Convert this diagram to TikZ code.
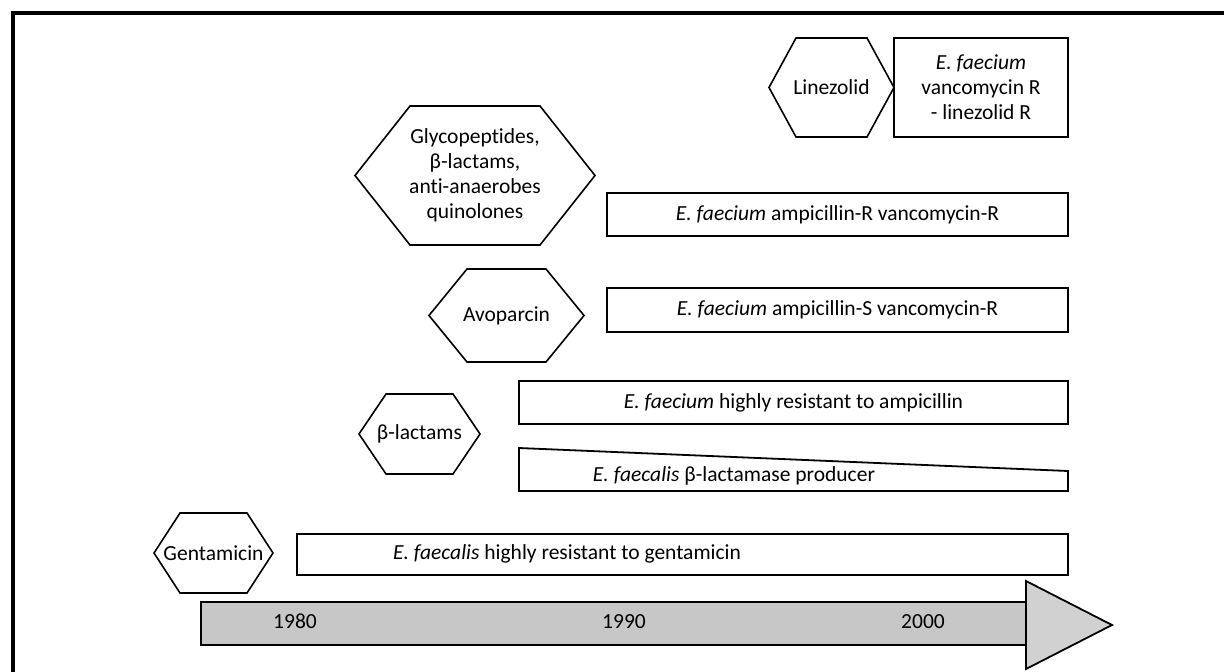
\documentclass[tikz,border=0pt]{standalone}
\usepackage{fontspec}
\setmainfont{Carlito}[Ligatures=NoCommon]
\usetikzlibrary{positioning}

\newcommand{\hexagon}[2]{%
  \draw[hex line] (#1.west) -- ([xshift=#2]#1.north west) -- ([xshift=-#2]#1.north east)
    -- (#1.east) -- ([xshift=-#2]#1.south east) -- ([xshift=#2]#1.south west) -- cycle;}

\begin{document}
\begin{tikzpicture}[x=1pt,y=-1pt,
    txt/.style={font=\fontsize{21.5}{25}\selectfont},
    hex node/.style={txt,inner sep=0pt,outer sep=0pt,align=center},
    hex line/.style={line width=1.6pt,line join=miter},
    res box/.style={txt,draw,line width=1.8pt,inner sep=0pt,outer sep=0pt,align=center},
    time bar/.style={draw,line width=1.8pt,line join=miter},
    year/.style={txt,anchor=base}]

  \useasboundingbox (0,0) rectangle (1224,672);
  \draw[line width=4pt] (13,672) |- (1224,13);

  \node[hex node,minimum width=125pt,minimum height=99pt] (lin) at (831.5,87.5) {Linezolid};
  \node[res box,minimum width=174pt,minimum height=99pt] (linR) at (981,87.5)
    {\textit{E. faecium}\\ vancomycin R\\ - linezolid R};

  \node[hex node,minimum width=240pt,minimum height=139pt] (glyco) at (475,175.5)
    {Glycopeptides,\\ β-lactams,\\ anti-anaerobes\\ quinolones};
  \node[res box,minimum width=461pt,minimum height=43pt] (ampR) at (837.5,214.5)
    {\textit{E. faecium} ampicillin-R vancomycin-R};

  \node[hex node,minimum width=155pt,minimum height=93pt] (avo) at (506.5,315.5) {Avoparcin};
  \node[res box,minimum width=461pt,minimum height=44pt] (ampS) at (837.5,310)
    {\textit{E. faecium} ampicillin-S vancomycin-R};

  \node[hex node,minimum width=121pt,minimum height=80pt] (blac) at (419.5,434) {β-lactams};
  \node[res box,minimum width=549pt,minimum height=43pt] (hiamp) at (793.5,402.5)
    {\textit{E. faecium} highly resistant to ampicillin};
  \draw[line width=1.8pt,line join=miter] (519,448) -- (1068,471) -- (1068,491) -- (519,491) -- cycle;
  \node[txt] (blacR) at (734,476) {\textit{E. faecalis} β-lactamase producer};

  \node[hex node,minimum width=119pt,minimum height=80pt] (gen) at (213.5,553) {Gentamicin};
  \node[res box,minimum width=771pt,minimum height=41pt] (genR) at (682.5,554.5) {};
  \node[txt] (genRt) at (567,554) {\textit{E. faecalis} highly resistant to gentamicin};

  \hexagon{lin}{27pt}
  \hexagon{glyco}{55pt}
  \hexagon{avo}{38pt}
  \hexagon{blac}{27pt}
  \hexagon{gen}{26pt}

  \draw[time bar,fill=black!22] (201,602) rectangle (1026,645);
  \draw[time bar,fill=black!18] (1026,581) -- (1112,625) -- (1026,669) -- cycle;
  \node[year] (y80) at (295,628) {1980};
  \node[year] (y90) at (624,628) {1990};
  \node[year] (y00) at (923,628) {2000};

\end{tikzpicture}
\end{document}
